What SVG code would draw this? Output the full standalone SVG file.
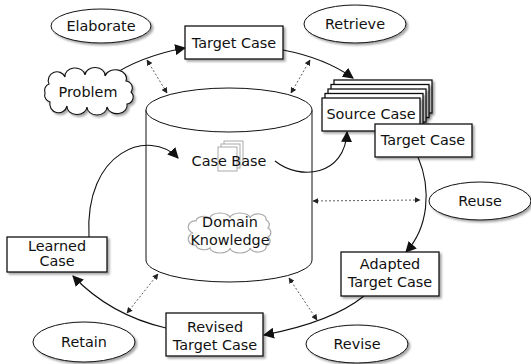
<svg xmlns="http://www.w3.org/2000/svg" width="531" height="364" viewBox="0 0 531 364">
  <defs>
    <style>
      text { font-family: "DejaVu Sans", "Liberation Sans", sans-serif; font-size: 14.4px; fill: #111; text-anchor: middle; dominant-baseline: central; }
      .box { fill: #fff; stroke: #111; stroke-width: 1.3; }
      .ell { fill: #fff; stroke: #111; stroke-width: 1; }
      .flow { fill: none; stroke: #111; stroke-width: 1.1; }
      .link { fill: none; stroke: #333; stroke-width: 0.8; stroke-dasharray: 2 2; }
      .ghost { fill: #fff; stroke: #aaa; stroke-width: 1; }
    </style>
    <filter id="shadow" x="-20%" y="-20%" width="140%" height="150%">
      <feDropShadow dx="2" dy="2" stdDeviation="1" flood-color="#000" flood-opacity="0.35"/>
    </filter>
    <marker id="arrow" viewBox="0 0 10 10" refX="9" refY="5" markerWidth="11" markerHeight="11" markerUnits="userSpaceOnUse" orient="auto">
      <path d="M0,0 L10,5 L0,10 Z" fill="#111"/>
    </marker>
    <marker id="tip" viewBox="0 0 10 10" refX="9" refY="5" markerWidth="6" markerHeight="6" markerUnits="userSpaceOnUse" orient="auto-start-reverse">
      <path d="M0,0 L10,5 L0,10 Z" fill="#222"/>
    </marker>
  </defs>
  <rect width="531" height="364" fill="#fff"/>

  <!-- repository cylinder -->
  <g id="repository">
    <path d="M146,110 L146,260 A83,22 0 0 0 312,260 L312,110" fill="#fff" stroke="#111" stroke-width="1"/>
    <ellipse cx="229" cy="110" rx="83" ry="22" fill="#fff" stroke="#111" stroke-width="1"/>
  </g>

  <!-- case base with page stack -->
  <g id="case-base">
    <rect x="224" y="141" width="19" height="24" class="ghost"/>
    <rect x="221" y="144" width="19" height="24" class="ghost"/>
    <rect x="218" y="147" width="19" height="24" class="ghost"/>
    <text x="229" y="161">Case Base</text>
  </g>

  <!-- domain knowledge with cloud -->
  <g id="domain-knowledge">
    <path d="M196,221 a8,5 0 0 1 14,-3 a10,5 0 0 1 20,0 a10,5 0 0 1 20,0 a8,5 0 0 1 16,2 a5,5 0 0 1 2,8 a5,5 0 0 1 0,9 a5,5 0 0 1 -2,9 a8,5 0 0 1 -16,2 a10,5 0 0 1 -20,0 a10,5 0 0 1 -20,0 a8,5 0 0 1 -14,-3 a5,5 0 0 1 -3,-12 a5,5 0 0 1 3,-12 Z" fill="#fff" stroke="#aaa" stroke-width="1.2"/>
    <text x="230" y="222">Domain</text>
    <text x="230" y="240">Knowledge</text>
  </g>

  <!-- connectors -->
  <g id="connectors">
    <path class="flow" d="M108,78 Q140,56 185,48" marker-end="url(#arrow)"/>
    <path class="flow" d="M283,50 Q325,58 353,78" marker-end="url(#arrow)"/>
    <path class="flow" d="M275,161 C300,181 345,176 347,132" marker-end="url(#arrow)"/>
    <path class="flow" d="M418,157 C432,190 428,228 406,252" marker-end="url(#arrow)"/>
    <path class="flow" d="M364,296 Q332,322 264,335" marker-end="url(#arrow)"/>
    <path class="flow" d="M166,328 Q110,315 73,276" marker-end="url(#arrow)"/>
    <path class="flow" d="M89,237 C84,150 150,128 178,158" marker-end="url(#arrow)"/>

    <path class="link" d="M147,60 L167,93" marker-start="url(#tip)" marker-end="url(#tip)"/>
    <path class="link" d="M310,60 L291,93" marker-start="url(#tip)" marker-end="url(#tip)"/>
    <path class="link" d="M313,201 L420,200" marker-start="url(#tip)" marker-end="url(#tip)"/>
    <path class="link" d="M289,278 L317,320" marker-start="url(#tip)" marker-end="url(#tip)"/>
    <path class="link" d="M158,274 L127,313" marker-start="url(#tip)" marker-end="url(#tip)"/>
  </g>

  <!-- process labels -->
  <g id="elaborate"><ellipse cx="101" cy="26" rx="50" ry="17" class="ell" filter="url(#shadow)"/><text x="101" y="26">Elaborate</text></g>
  <g id="retrieve"><ellipse cx="355" cy="24" rx="51" ry="19" class="ell" filter="url(#shadow)"/><text x="355" y="24">Retrieve</text></g>
  <g id="reuse"><ellipse cx="480" cy="201" rx="51" ry="19" class="ell" filter="url(#shadow)"/><text x="480" y="201">Reuse</text></g>
  <g id="revise"><ellipse cx="357" cy="344" rx="51" ry="19" class="ell" filter="url(#shadow)"/><text x="357" y="344">Revise</text></g>
  <g id="retain"><ellipse cx="84" cy="342" rx="51" ry="20" class="ell" filter="url(#shadow)"/><text x="84" y="342">Retain</text></g>

  <!-- problem cloud -->
  <g id="problem">
    <path filter="url(#shadow)" d="M49,84 a8,8 0 0 1 16,-7 a10,8 0 0 1 20,-2 a10,8 0 0 1 20,1 a10,8 0 0 1 21,5 a7,7 0 0 1 5,11 a7,7 0 0 1 -4,12 a10,8 0 0 1 -20,3 a10,8 0 0 1 -20,0 a10,8 0 0 1 -20,-1 a8,8 0 0 1 -17,-4 a7,7 0 0 1 -5,-9 a7,7 0 0 1 4,-9 Z" fill="#fff" stroke="#111" stroke-width="1.1"/>
    <text x="88" y="92">Problem</text>
  </g>

  <!-- case nodes -->
  <g id="target-case">
    <rect x="185" y="26" width="98" height="33" class="box" filter="url(#shadow)"/>
    <text x="234" y="43">Target Case</text>
  </g>

  <g id="source-case">
    <rect x="334" y="80" width="98" height="33" class="box" filter="url(#shadow)"/>
    <rect x="331" y="84.5" width="98" height="33" class="box" filter="url(#shadow)"/>
    <rect x="328" y="89" width="98" height="33" class="box" filter="url(#shadow)"/>
    <rect x="325" y="93.5" width="98" height="33" class="box" filter="url(#shadow)"/>
    <rect x="322" y="98" width="98" height="33" class="box" filter="url(#shadow)"/>
    <text x="371" y="114">Source Case</text>
  </g>

  <g id="retrieved-target-case">
    <rect x="375" y="124" width="97" height="33" class="box" filter="url(#shadow)"/>
    <text x="423" y="140">Target Case</text>
  </g>

  <g id="adapted-target-case">
    <rect x="341" y="252" width="98" height="44" class="box" filter="url(#shadow)"/>
    <text x="390" y="264">Adapted</text>
    <text x="390" y="282">Target Case</text>
  </g>

  <g id="revised-target-case">
    <rect x="166" y="313" width="97" height="43" class="box" filter="url(#shadow)"/>
    <text x="215" y="327">Revised</text>
    <text x="215" y="345">Target Case</text>
  </g>

  <g id="learned-case">
    <rect x="7" y="237" width="100" height="35" class="box" filter="url(#shadow)"/>
    <text x="57" y="246">Learned</text>
    <text x="57" y="261">Case</text>
  </g>
</svg>
